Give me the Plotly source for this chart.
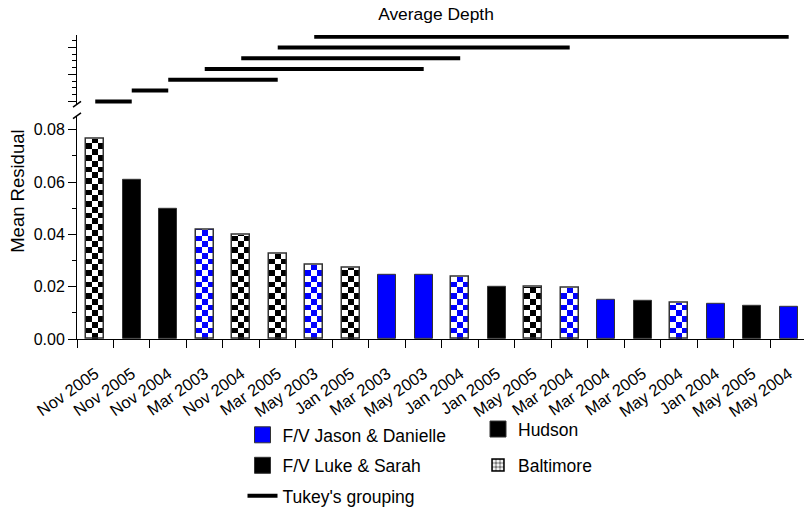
import plotly.graph_objects as go

# ---------------- data ----------------
labels = ["Nov 2005", "Nov 2005", "Nov 2004", "Mar 2003", "Nov 2004", "Mar 2005",
          "May 2003", "Jan 2005", "Mar 2003", "May 2003", "Jan 2004", "Jan 2005",
          "May 2005", "Mar 2004", "Mar 2004", "Mar 2005", "May 2004", "Jan 2004",
          "May 2005", "May 2004"]
vessel = ["Luke", "Luke", "Luke", "Jason", "Luke", "Luke", "Jason", "Luke", "Jason",
          "Jason", "Jason", "Luke", "Luke", "Jason", "Jason", "Luke", "Jason", "Jason",
          "Luke", "Jason"]
location = ["Baltimore", "Hudson", "Hudson", "Baltimore", "Baltimore", "Baltimore",
            "Baltimore", "Baltimore", "Hudson", "Hudson", "Baltimore", "Hudson",
            "Baltimore", "Baltimore", "Hudson", "Hudson", "Baltimore", "Hudson",
            "Hudson", "Hudson"]
values = [0.0765, 0.0609, 0.0496, 0.0419, 0.0398, 0.0327, 0.0283, 0.0273, 0.0246,
          0.0247, 0.0237, 0.0200, 0.0199, 0.0194, 0.0151, 0.0146, 0.0140, 0.0135,
          0.0125, 0.0124]
# Tukey's grouping: bars (by position) spanned by each line, and its level
tukey_start = [0, 1, 2, 3, 4, 5, 6]
tukey_end = [1, 2, 5, 9, 10, 13, 19]
tukey_level = [0.0, 0.4, 0.8, 1.2, 1.6, 2.0, 2.4]

# ---------------- styles ----------------
BLUE = "#0000FF"
BLACK = "#000000"
EDGE = "#333333"
FONT = "Liberation Sans, Arial, Helvetica, sans-serif"
BAR_W = 0.5
N_COL = 3          # checker columns across a bar
STEP = 0.0022      # checker row height (data units)

pos = list(range(len(values)))
fig = go.Figure()

# solid (Hudson) bars, coloured by vessel
for v_name, color in [("Jason", BLUE), ("Luke", BLACK)]:
    idx = [i for i in pos if vessel[i] == v_name and location[i] == "Hudson"]
    fig.add_trace(go.Bar(
        x=idx, y=[values[i] for i in idx], width=BAR_W, showlegend=False,
        marker=dict(color=color, line=dict(color=EDGE, width=1)), hoverinfo="skip"))

# checker squares for Baltimore bars
cw = BAR_W / N_COL
for v_name, color in [("Jason", BLUE), ("Luke", BLACK)]:
    sx, sb, sh = [], [], []
    for i in pos:
        if vessel[i] != v_name or location[i] != "Baltimore":
            continue
        r = 0
        while r * STEP < values[i]:
            base = r * STEP
            h = min(STEP, values[i] - base)
            for c in range(N_COL):
                if (r + c) % 2 == 1:
                    sx.append(i - BAR_W / 2 + (c + 0.5) * cw)
                    sb.append(base)
                    sh.append(h)
            r += 1
    fig.add_trace(go.Bar(
        x=sx, y=sh, base=sb, width=cw, showlegend=False,
        marker=dict(color=color, line=dict(width=0)), hoverinfo="skip"))

# Baltimore bar outlines
idx_b = [i for i in pos if location[i] == "Baltimore"]
fig.add_trace(go.Bar(
    x=idx_b, y=[values[i] for i in idx_b], width=BAR_W, showlegend=False,
    marker=dict(color="rgba(0,0,0,0)", line=dict(color=EDGE, width=1.5)),
    hoverinfo="skip"))

# Tukey grouping lines (upper panel)
tx, ty = [], []
for s, e, lv in zip(tukey_start, tukey_end, tukey_level):
    tx += [s, e, None]
    ty += [lv, lv, None]

# legend entries (vessel colours)
for name, color in [("F/V Jason & Danielle", BLUE), ("F/V Luke & Sarah", BLACK)]:
    fig.add_trace(go.Scatter(
        x=[None], y=[None], mode="markers", name=name, legend="legend",
        legendgroup=name,
        marker=dict(symbol="square", size=16, color=color,
                    line=dict(color=EDGE, width=1))))

fig.add_trace(go.Scatter(
    x=tx, y=ty, yaxis="y2", mode="lines", name="Tukey's grouping",
    line=dict(color=BLACK, width=4), cliponaxis=False,
    legend="legend", legendgroup="tukey", hoverinfo="skip"))

# location legend entries
fig.add_trace(go.Scatter(
    x=[None], y=[None], mode="markers", name="Hudson", legend="legend2",
    legendgroup="hud",
    marker=dict(symbol="square", size=16, color=BLACK, line=dict(color=EDGE, width=1))))
fig.add_trace(go.Bar(
    x=[None], y=[None], name="Baltimore", legend="legend2", legendgroup="bal",
    marker=dict(color="white", line=dict(color=BLACK, width=1.5),
                pattern=dict(shape=".", fgcolor=BLACK, size=5, solidity=0.6))))

H = 514
top_px, bot_px = 35, 351
ph = bot_px - top_px

def py(px):
    return (bot_px - px) / ph

LEG_FONT = 17.5
fig.update_layout(
    width=804, height=H,
    margin=dict(l=77, r=0, t=top_px, b=H - bot_px),
    paper_bgcolor="white", plot_bgcolor="white",
    barmode="overlay", bargap=0,
    font=dict(family=FONT, size=16, color="black"),
    title=dict(text="Average Depth", x=436 / 804, xref="container", xanchor="center",
               y=1 - 14 / H, yref="container", yanchor="middle",
               font=dict(size=17.4, color="black")),
    xaxis=dict(range=[-0.5, 19.42], tickmode="array", tickvals=pos, ticktext=labels,
               tickangle=-35, ticks="outside", ticklen=0, ticklabelstandoff=18,
               showline=True, linecolor="black", linewidth=1,
               showgrid=False, zeroline=False, tickfont=dict(size=16.5),
               minor=dict(tickmode="array", tickvals=[p - 0.5 for p in pos],
                          ticks="outside", ticklen=8, tickcolor="black", showgrid=False)),
    yaxis=dict(domain=[0, py(119)], range=[0, 0.0853], tickmode="array",
               tickvals=[0, 0.02, 0.04, 0.06, 0.08], tickformat=".2f",
               ticks="outside", ticklen=8, tickcolor="black", showline=True,
               linecolor="black", linewidth=1, showgrid=False, zeroline=False,
               tickfont=dict(size=16),
               minor=dict(dtick=0.01, ticks="outside", ticklen=4, tickcolor="black",
                          showgrid=False)),
    yaxis2=dict(domain=[py(106.7), 1], range=[-0.096, 2.464], anchor="x",
                tickmode="array", tickvals=[0, 1, 2], showticklabels=False,
                ticks="outside", ticklen=8, tickcolor="black", showline=True,
                linecolor="black", linewidth=1, showgrid=False, zeroline=False,
                minor=dict(dtick=0.25, ticks="outside", ticklen=4, tickcolor="black",
                           showgrid=False)),
    legend=dict(x=(242.5 - 77) / 727, xanchor="left", y=py(432), yanchor="top",
                font=dict(size=LEG_FONT), bgcolor="rgba(0,0,0,0)", tracegroupgap=4.75,
                traceorder="grouped"),
    legend2=dict(x=(478 - 77) / 727, xanchor="left", y=py(426), yanchor="top",
                 font=dict(size=LEG_FONT), bgcolor="rgba(0,0,0,0)", tracegroupgap=10.25,
                 traceorder="grouped"),
    annotations=[dict(text="Mean Residual", textangle=-90, xref="paper", yref="paper",
                      x=(18 - 77) / 727, y=py(198), showarrow=False,
                      xanchor="center", yanchor="middle", font=dict(size=18.5))],
    shapes=[
        dict(type="line", xref="paper", yref="paper", x0=(73 - 77) / 727, x1=(81 - 77) / 727,
             y0=py(110), y1=py(104), line=dict(color="black", width=1.5)),
        dict(type="line", xref="paper", yref="paper", x0=(73 - 77) / 727, x1=(81 - 77) / 727,
             y0=py(122), y1=py(116), line=dict(color="black", width=1.5)),
    ],
)

fig.write_html("out.html")
